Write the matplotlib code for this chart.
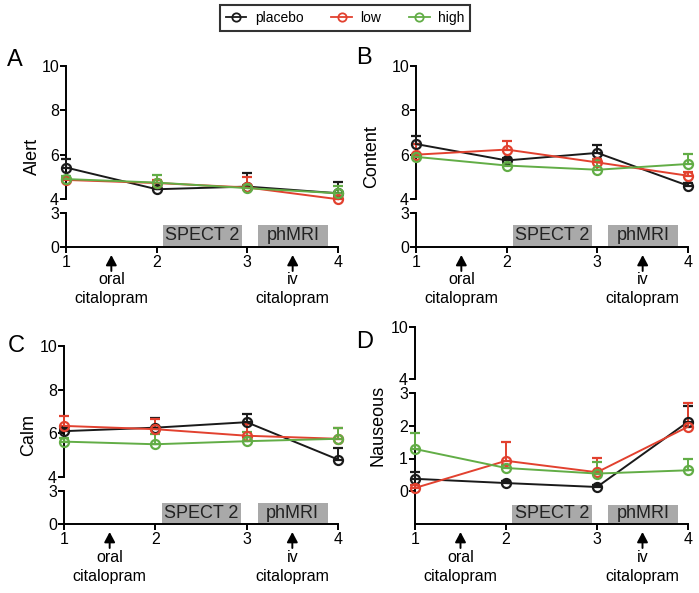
import numpy as np
import matplotlib
matplotlib.use('Agg')
import matplotlib.pyplot as plt
from matplotlib.patches import Rectangle
from matplotlib.lines import Line2D
from matplotlib.transforms import offset_copy, blended_transform_factory

plt.rcParams['font.family'] = ['Liberation Sans', 'DejaVu Sans']

#---------------------- DATA
timepoints = [1, 2, 3, 4]
groups = ['placebo', 'low', 'high']
colors = {'placebo': '#1a1a1a', 'low': '#e2412f', 'high': '#62ad46'}

alert_mean = {'placebo': [5.42, 4.44, 4.56, 4.26],
              'low':     [4.86, 4.72, 4.52, 3.99],
              'high':    [4.90, 4.74, 4.49, 4.26]}
alert_err  = {'placebo': [0.38, 0.10, 0.61, 0.50],
              'low':     [0.15, 0.15, 0.49, 0.12],
              'high':    [0.12, 0.35, 0.12, 0.34]}

content_mean = {'placebo': [6.48, 5.74, 6.08, 4.60],
                'low':     [6.00, 6.23, 5.65, 5.05],
                'high':    [5.90, 5.51, 5.32, 5.58]}
content_err  = {'placebo': [0.38, 0.12, 0.37, 0.10],
                'low':     [0.50, 0.37, 0.15, 0.15],
                'high':    [0.12, 0.12, 0.45, 0.45]}

calm_mean = {'placebo': [6.10, 6.26, 6.51, 4.80],
             'low':     [6.34, 6.19, 5.89, 5.75],
             'high':    [5.62, 5.50, 5.64, 5.75]}
calm_err  = {'placebo': [0.12, 0.44, 0.37, 0.54],
             'low':     [0.44, 0.45, 0.55, 0.50],
             'high':    [0.15, 0.45, 0.40, 0.50]}

nause_mean = {'placebo': [0.38, 0.25, 0.13, 2.12],
              'low':     [0.10, 0.93, 0.58, 1.97],
              'high':    [1.29, 0.71, 0.54, 0.64]}
nause_err  = {'placebo': [0.22, 0.05, 0.05, 0.48],
              'low':     [0.10, 0.57, 0.43, 0.73],
              'high':    [0.48, 0.10, 0.36, 0.35]}

# scan sessions (x range) and drug administrations (x position)
sessions = [('SPECT 2', 2.07, 2.94), ('phMRI', 3.12, 3.89)]
drugs = [(1.5, 'oral', 'citalopram'), (3.5, 'iv', 'citalopram')]

#---------------------- LAYOUT (pixels: left, right, top-seg top, top-seg bottom, low-seg top, low-seg bottom)
W, H = 699, 593
panels = [
    dict(letter='A', ylabel='Alert', mean=alert_mean, err=alert_err, px=(66, 338, 66, 199, 213, 247),
         up=(4, 10), upt=[4, 6, 8, 10], lo=(0, 3), lot=[0, 3], seg='up', box=(0.08, 1.9),
         lpos=(15, 60), ylx=32),
    dict(letter='B', ylabel='Content', mean=content_mean, err=content_err, px=(416, 688, 66, 199, 213, 247),
         up=(4, 10), upt=[4, 6, 8, 10], lo=(0, 3), lot=[0, 3], seg='up', box=(0.08, 1.9),
         lpos=(364, 58), ylx=372),
    dict(letter='C', ylabel='Calm', mean=calm_mean, err=calm_err, px=(64, 338, 346, 477, 491, 524),
         up=(4, 10), upt=[4, 6, 8, 10], lo=(0, 3), lot=[0, 3], seg='up', box=(0.08, 1.9),
         lpos=(16, 346), ylx=29),
    dict(letter='D', ylabel='Nauseous', mean=nause_mean, err=nause_err, px=(415, 688, 327, 379, 393, 524),
         up=(4, 10), upt=[4, 10], lo=(-1, 3), lot=[0, 1, 2, 3], seg='lo', box=(-0.96, -0.42),
         lpos=(365, 342), ylx=378),
]

fig = plt.figure(figsize=(W / 100, H / 100), dpi=100)

def rect(l, r, t, b):
    return [l / W, 1 - b / H, (r - l) / W, (b - t) / H]

lw_ax = 1.4
for p in panels:
    l, r, t1, b1, t2, b2 = p['px']
    top = fig.add_axes(rect(l, r, t1, b1))
    bot = fig.add_axes(rect(l, r, t2, b2))

    for ax in (top, bot):
        ax.set_xlim(1, 4)
        ax.patch.set_alpha(0)
        ax.spines['top'].set_visible(False)
        ax.spines['right'].set_visible(False)
        ax.spines['left'].set_linewidth(lw_ax)
        ax.spines['bottom'].set_linewidth(lw_ax)
        ax.tick_params(width=lw_ax, length=4, labelsize=11.5, pad=1, direction='out')

    top.set_ylim(*p['up']); top.set_yticks(p['upt'])
    top.spines['bottom'].set_visible(False)
    top.set_xticks([])
    bot.set_ylim(*p['lo']); bot.set_yticks(p['lot'])
    bot.set_xticks(timepoints)
    bot.tick_params(axis='x', pad=2)

    ax = top if p['seg'] == 'up' else bot
    for g in groups:
        m = np.array(p['mean'][g]); e = np.array(p['err'][g])
        ax.errorbar(timepoints, m, yerr=[np.zeros_like(e), e], fmt='none', ecolor=colors[g],
                    elinewidth=1.4, capsize=3.5, capthick=1.6, clip_on=False, zorder=3)
        ax.plot(timepoints, m, color=colors[g], lw=1.4, marker='o', ms=6.5, mfc='none',
                mec=colors[g], mew=1.6, clip_on=False, zorder=4)

    # session boxes
    y0, y1 = p['box']
    for name, xa, xb in sessions:
        bot.add_patch(Rectangle((xa, y0), xb - xa, y1 - y0, facecolor='#a9a9a9', edgecolor='none',
                                clip_on=False, zorder=1))
        bot.text((xa + xb) / 2, (y0 + y1) / 2, name, ha='center', va='center', fontsize=13,
                 color='#222222', zorder=2)

    # drug arrows below x axis
    tr = blended_transform_factory(bot.transData, bot.transAxes)
    for x, w1, w2 in drugs:
        bot.annotate('', xy=(x, 0), xycoords=offset_copy(tr, fig=fig, y=-8, units='dots'),
                     xytext=(x, 0), textcoords=offset_copy(tr, fig=fig, y=-24, units='dots'),
                     arrowprops=dict(arrowstyle='-|>,head_length=0.6,head_width=0.32',
                                     color='black', lw=1.4, shrinkA=0, shrinkB=0),
                     annotation_clip=False)
        bot.text(x, 0, w1, transform=offset_copy(tr, fig=fig, y=-33, units='dots'),
                 ha='center', va='center', fontsize=11.5)
        bot.text(x, 0, w2, transform=offset_copy(tr, fig=fig, y=-52, units='dots'),
                 ha='center', va='center', fontsize=11.5)

    fig.text(p['lpos'][0] / W, 1 - p['lpos'][1] / H, p['letter'], fontsize=17,
             ha='center', va='center')
    fig.text(p['ylx'] / W, 1 - ((t1 + b2) / 2) / H, p['ylabel'], fontsize=13,
             rotation=90, ha='center', va='center')

handles = [Line2D([], [], color=colors[g], lw=1.3, marker='o', ms=6, mfc='none', mec=colors[g], mew=1.3)
           for g in groups]
leg = fig.legend(handles, groups, loc='center', bbox_to_anchor=(345 / W, 1 - 18 / H), ncol=3,
                 fontsize=10, frameon=True, fancybox=False, handlelength=1.5, handletextpad=0.6,
                 columnspacing=2.0, borderpad=0.4)
leg.get_frame().set_edgecolor('black')
leg.get_frame().set_linewidth(1.5)

plt.savefig('out.png', dpi=100)
